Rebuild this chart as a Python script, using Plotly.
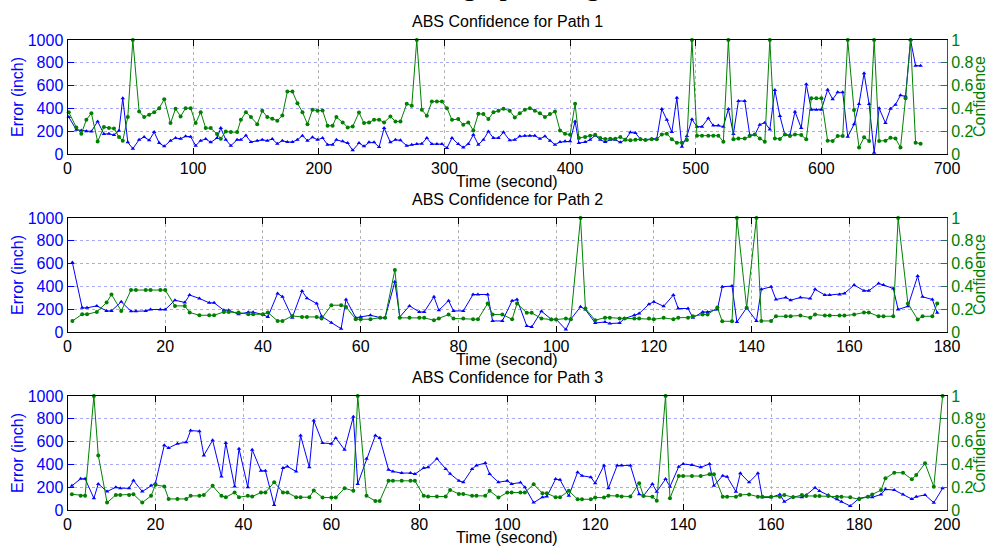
import plotly.graph_objects as go

W, H = 987, 547

# ---------------- Path 1 ----------------
path1_time = [1, 7, 11, 15, 19, 24, 29, 33, 37, 41, 44, 48, 52, 57, 61, 65, 69, 73, 77, 82,
              86, 90, 94, 98, 102, 106, 110, 114, 119, 122, 126, 130, 135, 138, 142, 146, 151, 155, 159, 163,
              167, 171, 175, 179, 183, 187, 191, 195, 199, 203, 207, 211,
              214, 219, 223, 227, 232, 236, 240, 244, 248, 252, 257, 261, 265, 270, 274, 278, 282, 286, 290, 294,
              298, 302, 306, 311, 315, 319, 323, 327, 331, 335, 339, 343, 347, 352, 356, 360, 364, 368, 372, 376,
              380, 384, 388, 392, 396, 400, 404, 407, 412, 416, 420, 424, 428, 432, 436, 440, 444, 448, 452,
              456, 460, 465, 469, 473, 477, 481, 485, 489, 493, 497, 501, 505, 510, 514, 518, 522, 526, 530, 534,
              539, 543, 547, 551, 555, 559, 563, 567, 571, 575, 579, 584, 588, 592, 596, 600, 605, 609, 613, 617,
              621, 626, 630, 634, 638, 642, 646, 651, 655, 659, 663, 667, 671, 675, 679]
path1_error = [324, 213, 207, 200, 198, 286, 175, 178, 166, 205, 490, 102, 47, 125, 149, 120, 192, 96, 67, 117,
               140, 134, 155, 152, 73, 117, 131, 102, 140, 227, 125, 73, 125, 125, 163, 105, 117, 125, 117, 131,
               90, 117, 105, 105, 125, 160, 117, 146, 125, 140, 82, 82,
               125, 111, 96, 32, 96, 67, 102, 102, 61, 227, 102, 125, 120, 73, 82, 87, 90, 140, 87, 87,
               87, 52, 140, 87, 58, 87, 169, 82, 125, 198, 140, 140, 190, 120, 125, 155, 160, 160, 160, 134,
               155, 117, 82, 105, 111, 111, 286, 96, 105, 125, 163, 125, 105, 125, 125, 102, 125, 190, 184,
               131, 125, 134, 134, 394, 300, 193, 494, 64, 158, 304, 240, 240, 313, 249, 249, 240, 395, 175, 465,
               465, 167, 167, 257, 275, 216, 561, 333, 167, 167, 371, 228, 611, 389, 389, 389, 564, 480, 541, 541,
               152, 260, 439, 708, 439, 12, 401, 272, 398, 433, 515, 506, 1000, 775, 775]
path1_conf = [0.367, 0.233, 0.178, 0.30, 0.358, 0.11, 0.236, 0.227, 0.224, 0.149, 0.117, 0.324, 1.0, 0.373, 0.324,
              0.344, 0.367, 0.402, 0.481, 0.271, 0.397, 0.329, 0.402, 0.402, 0.271, 0.367, 0.227, 0.227, 0.175, 0.134,
              0.198, 0.192, 0.192, 0.30, 0.367, 0.324, 0.262, 0.379, 0.324, 0.309, 0.292, 0.338, 0.548, 0.548, 0.446,
              0.367, 0.262, 0.388, 0.379, 0.382, 0.248, 0.248,
              0.324, 0.277, 0.233, 0.242, 0.364, 0.271, 0.277, 0.30, 0.30, 0.277, 0.329, 0.286, 0.286, 0.44, 0.423,
              1.0, 0.388, 0.335, 0.461, 0.461, 0.461, 0.402, 0.30, 0.306, 0.257, 0.277, 0.207, 0.353, 0.35, 0.306,
              0.367, 0.379, 0.397, 0.379, 0.321, 0.358, 0.388, 0.402, 0.379, 0.358, 0.324, 0.35, 0.373, 0.207, 0.178,
              0.169, 0.44, 0.14, 0.149, 0.16, 0.169, 0.14, 0.131, 0.134, 0.134, 0.149, 0.125, 0.12, 0.125,
              0.129, 0.123, 0.129, 0.129, 0.172, 0.178, 0.129, 0.099, 0.099, 0.123, 1.0, 0.161, 0.161, 0.161, 0.161,
              0.161, 0.108, 1.0, 0.129, 0.137, 0.137, 0.158, 0.172, 0.137, 0.108, 1.0, 0.137, 0.132, 0.172, 0.158,
              0.172, 0.167, 0.129, 0.488, 0.488, 0.488, 0.117, 0.114, 0.158, 0.158, 1.0, 0.386, 0.058, 0.146, 0.114,
              1.0, 0.114, 0.117, 0.143, 0.137, 0.056, 0.488, 1.0, 0.099, 0.091]

# ---------------- Path 2 ----------------
path2_time = [1, 3, 4, 6, 8, 9, 11, 13, 14, 16, 17, 19, 20, 22, 24, 25, 27, 29, 30, 32, 33, 35, 37, 38, 40, 41,
              43, 44, 46, 48, 49, 51, 52, 54, 56, 57,
              59, 60, 62, 64, 65, 67, 68, 70, 72, 73, 75, 76, 78, 79, 81, 83, 84, 86, 87, 89, 91, 92, 94, 95,
              97, 99, 100, 102, 103, 105, 106, 108, 110, 111, 113, 114, 116, 117,
              119, 120, 122, 124, 125, 127, 128, 130, 131, 133, 134, 136, 137, 139, 141, 142, 144, 145, 147, 148,
              150, 152, 153, 155, 156, 158, 159, 161, 163, 164, 166, 167, 169, 170, 172, 174, 175, 177, 178]
path2_error = [609, 212, 212, 229, 185, 185, 265, 182, 182, 185, 197, 197, 197, 279, 259, 324, 294, 256, 256, 191,
               191, 156, 174, 174, 153, 132, 338, 309, 126, 359, 297, 250, 138, 82, 29, 285,
               126, 132, 147, 126, 126, 441, 132, 229, 176, 176, 309, 191, 274, 185, 185, 329, 329, 329, 97, 97,
               274, 285, 53, 44, 182, 112, 112, 21, 112, 221, 197, 79, 88, 74, 79, 118, 147, 162,
               244, 265, 226, 324, 206, 206, 126, 176, 176, 197, 397, 403, 88, 212, 97, 374, 397, 285, 303, 279,
               303, 294, 374, 324, 324, 329, 338, 412, 362, 362, 426, 412, 382, 197, 226, 491, 309, 285, 168]
path2_conf = [0.097, 0.156, 0.156, 0.176, 0.259, 0.329, 0.185, 0.368, 0.368, 0.368, 0.368, 0.368, 0.368, 0.229,
              0.229, 0.171, 0.147, 0.147, 0.147, 0.176, 0.176, 0.171, 0.156, 0.156, 0.156, 0.171, 0.097, 0.097,
              0.141, 0.132, 0.132, 0.132, 0.118, 0.235, 0.235, 0.22,
              0.112, 0.112, 0.112, 0.126, 0.126, 0.544, 0.124, 0.124, 0.124, 0.124, 0.103, 0.118, 0.153, 0.118,
              0.118, 0.112, 0.112, 0.25, 0.153, 0.153, 0.112, 0.25, 0.168, 0.168, 0.118, 0.109, 0.109, 0.118,
              0.112, 1.0, 0.206, 0.103, 0.126, 0.126, 0.118, 0.118, 0.118, 0.118,
              0.118, 0.112, 0.124, 0.112, 0.126, 0.126, 0.138, 0.153, 0.153, 0.215, 0.094, 0.094, 1.0, 0.212,
              1.0, 0.097, 0.097, 0.138, 0.138, 0.138, 0.144, 0.126, 0.153, 0.144, 0.144, 0.144, 0.144, 0.153,
              0.171, 0.171, 0.138, 0.138, 0.138, 1.0, 0.25, 0.109, 0.138, 0.138, 0.25]

# ---------------- Path 3 ----------------
path3_time = [1, 3, 4, 6, 7, 9, 11, 12, 14, 15, 17, 19, 20, 22, 23, 25, 27, 28, 30, 31, 33, 35, 36, 38, 39, 41,
              42, 44, 45, 47, 49, 50, 52, 53, 55, 56, 58, 60, 61, 63,
              65, 66, 68, 70, 71, 73, 74, 76, 78, 79, 81, 82, 84, 86, 87, 89, 90, 92, 93, 95, 96, 98, 100, 101,
              103, 104, 106, 108, 109, 111, 112, 114, 116, 117, 119, 120, 122, 123, 125, 126, 128, 130,
              131, 133, 134, 136, 137, 139, 140, 142, 144, 146, 147, 149, 150, 152, 153, 155, 157, 158, 160, 162,
              163, 165, 167, 168, 170, 171, 173, 175, 176, 178, 180, 182, 183, 185, 186, 188, 190, 192, 193, 195,
              197, 199]
path3_error = [212, 274, 274, 103, 229, 162, 200, 191, 191, 259, 162, 215, 235, 568, 544, 582, 594, 697, 691, 479,
               612, 294, 588, 206, 538, 200, 529, 344, 344, 44, 368, 382, 338, 653, 374, 785, 588, 582, 632, 529,
               818, 229, 450, 653, 632, 353, 338, 324, 324, 315, 368, 374, 450, 359, 318, 256, 244, 359, 391, 412,
               315, 244, 256, 229, 241, 200, 65, 112, 118, 271, 265, 124, 332, 300, 288, 235, 391, 191, 391, 391,
               391, 138,
               125, 228, 161, 272, 205, 380, 404, 395, 374, 404, 213, 301, 292, 161, 322, 243, 322, 111, 111, 137,
               73, 117, 111, 132, 196, 167, 132, 94, 73, 35, 102, 117, 111, 137, 181, 175, 137, 96, 117, 132,
               64, 190]
path3_conf = [0.138, 0.126, 0.126, 1.0, 0.479, 0.065, 0.132, 0.132, 0.132, 0.138, 0.065, 0.124, 0.221, 0.206,
              0.097, 0.097, 0.097, 0.124, 0.124, 0.132, 0.212, 0.124, 0.112, 0.153, 0.112, 0.124, 0.118, 0.153,
              0.153, 0.244, 0.153, 0.153, 0.112, 0.112, 0.112, 0.171, 0.109, 0.109, 0.109, 0.191,
              0.168, 1.0, 0.124, 0.079, 0.079, 0.256, 0.256, 0.256, 0.256, 0.256, 0.124, 0.118, 0.118, 0.118,
              0.176, 0.141, 0.141, 0.124, 0.124, 0.124, 0.168, 0.109, 0.153, 0.153, 0.153, 0.153, 0.226, 0.147,
              0.147, 0.112, 0.112, 0.168, 0.094, 0.094, 0.094, 0.109, 0.109, 0.126, 0.124, 0.118, 0.118, 0.235,
              0.123, 0.117, 0.082, 1.0, 0.102, 0.298, 0.298, 0.298, 0.298, 0.313, 0.313, 0.117, 0.117, 0.117,
              0.132, 0.137, 0.117, 0.117, 0.117, 0.117, 0.132, 0.111, 0.132, 0.123, 0.123, 0.123, 0.123, 0.117,
              0.117, 0.111, 0.094, 0.117, 0.137, 0.175, 0.278, 0.327, 0.327, 0.269, 0.307, 0.409, 0.205, 1.0]

panel_titles = ["ABS Confidence for Path 1", "ABS Confidence for Path 2", "ABS Confidence for Path 3"]
x_ranges = [[0, 700], [0, 180], [0, 200]]
x_dticks = [100, 20, 20]
series = [(path1_time, path1_error, path1_conf),
          (path2_time, path2_error, path2_conf),
          (path3_time, path3_error, path3_conf)]

BLUE = "#0000ff"
GREEN = "#008000"
FONT = "Liberation Sans, Arial, Helvetica, sans-serif"

# pixel geometry of the three axes boxes
LEFT, RIGHT = 67.5, 947.0
TOPS = [40, 218, 396]
BOTTOMS = [154, 332, 510]


def px_x(p):
    return p / W


def px_y(p):
    return 1 - p / H


fig = go.Figure()
layout = dict(
    template="none",
    width=W, height=H,
    margin=dict(l=0, r=0, t=0, b=0, autoexpand=False),
    paper_bgcolor="white", plot_bgcolor="white",
    showlegend=False,
    font=dict(family=FONT, size=16, color="black"),
)
annotations = []

for i, (t, err, conf) in enumerate(series):
    n = i + 1
    xa = "x" if n == 1 else f"x{n}"
    ya_l = f"y{2 * n - 1}" if n > 1 else "y"
    ya_r = f"y{2 * n}"
    xkey = "xaxis" if n == 1 else f"xaxis{n}"
    ykey_l = "yaxis" if n == 1 else f"yaxis{2 * n - 1}"
    ykey_r = f"yaxis{2 * n}"

    dom_y = [px_y(BOTTOMS[i]), px_y(TOPS[i])]
    layout[xkey] = dict(
        domain=[px_x(LEFT), px_x(RIGHT)], anchor=ya_l, range=x_ranges[i], dtick=x_dticks[i],
        tick0=0, ticks="inside", ticklen=6, tickcolor="black", tickwidth=1,
        showline=True, linecolor="black", linewidth=1, mirror="ticks",
        showgrid=True, gridcolor="#b4b4b4", griddash="dot", gridwidth=1,
        zeroline=False, automargin=False, tickfont=dict(size=16, color="black"),
    )
    layout[ykey_l] = dict(
        domain=dom_y, anchor=xa, range=[0, 1000], dtick=200, tick0=0,
        ticks="inside", ticklen=6, tickcolor=BLUE, tickwidth=1,
        showline=True, linecolor="black", linewidth=1,
        showgrid=True, gridcolor="#a9a9f5", griddash="dot", gridwidth=1,
        zeroline=False, automargin=False, tickfont=dict(size=16, color=BLUE),
    )
    layout[ykey_r] = dict(
        overlaying=ya_l, anchor=xa, side="right", range=[0, 1], dtick=0.2, tick0=0,
        ticks="inside", ticklen=6, tickcolor="#2f6f5f", tickwidth=1,
        showline=True, linecolor=GREEN, linewidth=1,
        showgrid=False, zeroline=False, automargin=False, tickfont=dict(size=16, color=GREEN),
    )

    fig.add_trace(go.Scatter(
        x=t, y=err, xaxis=xa, yaxis=ya_l, mode="lines+markers",
        line=dict(color=BLUE, width=1),
        marker=dict(symbol="triangle-up", size=4, color=BLUE),
        cliponaxis=False, name="Error",
    ))
    fig.add_trace(go.Scatter(
        x=t, y=conf, xaxis=xa, yaxis=ya_r, mode="lines+markers",
        line=dict(color=GREEN, width=1),
        marker=dict(symbol="circle", size=4, color=GREEN),
        cliponaxis=False, name="Confidence",
    ))

    mid_x = (LEFT + RIGHT) / 2
    mid_y = (TOPS[i] + BOTTOMS[i]) / 2
    annotations += [
        dict(text=panel_titles[i], x=px_x(mid_x), y=px_y(TOPS[i] - 19), xref="paper", yref="paper",
             xanchor="center", yanchor="middle", showarrow=False, font=dict(size=16, color="black")),
        dict(text="Time (second)", x=px_x(mid_x), y=px_y(BOTTOMS[i] + 27), xref="paper", yref="paper",
             xanchor="center", yanchor="middle", showarrow=False, font=dict(size=16, color="black")),
        dict(text="Error (inch)", x=px_x(17), y=px_y(mid_y), xref="paper", yref="paper",
             xanchor="center", yanchor="middle", textangle=-90, showarrow=False,
             font=dict(size=16, color=BLUE)),
        dict(text="Confidence", x=px_x(979), y=px_y(mid_y), xref="paper", yref="paper",
             xanchor="center", yanchor="middle", textangle=-90, showarrow=False,
             font=dict(size=16, color=GREEN)),
    ]

# figure heading, mostly above the top edge of the page
annotations.append(dict(
    text="Error and Confidence graph along the Route", x=px_x(202), y=px_y(-15),
    xref="paper", yref="paper", xanchor="left", yanchor="middle", showarrow=False,
    font=dict(family="Liberation Serif, Times New Roman, serif", size=29, color="black"),
))

layout["annotations"] = annotations
fig.update_layout(**layout)
fig.write_html("out.html")
